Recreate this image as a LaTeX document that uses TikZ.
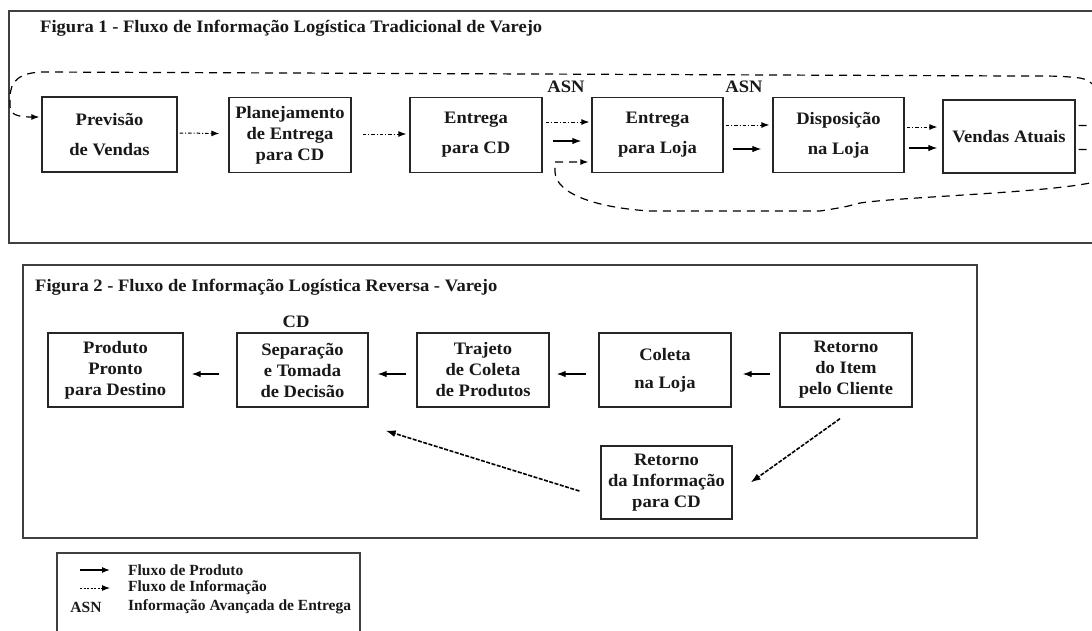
\documentclass[tikz,border=0pt]{standalone}
\usepackage{fontspec}
\setmainfont{Liberation Serif}
\newfontfamily\lbl{Liberation Serif}[FakeStretch=1.06]
\usetikzlibrary{arrows.meta}
\begin{document}
\begin{tikzpicture}[x=1pt,y=-1pt,
  txt/.style={font=\lbl\bfseries\fontsize{17.5}{21}\selectfont, inner sep=0pt, text=black!90},
  legtxt/.style={font=\rmfamily\bfseries\fontsize{15.5}{18}\selectfont, inner sep=0pt, text=black!90},
  box/.style={txt, draw=black!85, line width=1.3pt, align=center, minimum height=75pt},
  frame/.style={draw=black!75, line width=1.8pt},
  prod/.style={line width=1.2pt, -{Latex[length=9pt,width=6.5pt]}},
  info/.style={line width=1pt, dash pattern=on 3.5pt off 2pt on 1pt off 2pt, -{Latex[length=8pt,width=6pt]}},
  loopline/.style={line width=1.2pt, dash pattern=on 8pt off 6pt},
  infodense/.style={line width=1.6pt, dash pattern=on 4pt off 1.5pt, -{Latex[length=10pt,width=7pt]}},
]
\useasboundingbox (0,0) rectangle (1092,630);
\clip (0,0) rectangle (1092,630);
\fill[white] (0,0) rectangle (1092,630);

% ---------- Figura 1 ----------
\draw[frame] (9,11) rectangle (1110,243);
\node[txt, anchor=base west] (t1) at (40,32) {Figura 1 - Fluxo de Informação Logística Tradicional de Varejo};

\node[box, minimum width=135pt] (prev) at (109.5,134.5) {Previsão\\[9pt]de Vendas};
\node[box, minimum width=122pt] (plan) at (290,135) {Planejamento\\de Entrega\\para CD};
\node[box, minimum width=132pt] (ecd) at (476,135) {Entrega\\[9pt]para CD};
\node[box, minimum width=131pt] (elo) at (657.5,135) {Entrega\\[9pt]para Loja};
\node[box, minimum width=131pt] (disp) at (838.5,135) {Disposição\\[9pt]na Loja};
\node[box, minimum width=132pt, minimum height=73pt] (vend) at (1009,136.5) {Vendas Atuais};

\node[txt] (asn1) at (566,87) {ASN};
\node[txt] (asn2) at (744,87) {ASN};

\draw[info] ([xshift=2pt,yshift=1.5pt]prev.east) -- ([xshift=-9pt,yshift=1.5pt]plan.west);
\draw[info] ([xshift=11pt,yshift=1pt]plan.east) -- ([xshift=-3pt,yshift=1pt]ecd.west);
\draw[info] ([xshift=3pt,yshift=13pt]ecd.east) -- ([xshift=-2pt,yshift=13pt]elo.west);
\draw[prod] ([xshift=10pt,yshift=-6pt]ecd.east) -- ([xshift=-10pt,yshift=-6pt]elo.west);
\draw[info] ([xshift=2pt,yshift=10pt]elo.east) -- ([xshift=-3pt,yshift=10pt]disp.west);
\draw[prod] ([xshift=9pt,yshift=-14pt]elo.east) -- ([xshift=-11pt,yshift=-14pt]disp.west);
\draw[info] ([xshift=2pt,yshift=8pt]disp.east) -- ([xshift=-5pt,yshift=9.5pt]vend.west);
\draw[prod] ([xshift=4pt,yshift=-13pt]disp.east) -- ([xshift=-5pt,yshift=-11.5pt]vend.west);

% upper feedback loop: current sales back to forecasting
\draw[loopline, -{Latex[length=8pt,width=6pt]}]
  ([xshift=3pt,yshift=11pt]vend.east) -- (1090,125.5)
  .. controls (1108,124) and (1106,82) .. (1080,78)
  .. controls (1060,76) .. (1020,76) -- (45,72)
  .. controls (18,72) and (10,82) .. (10,98) -- (10,106)
  .. controls (10,114) and (16,117) .. ([xshift=-2pt,yshift=17.5pt]prev.west);

% lower feedback loop: current sales back to store delivery
\draw[loopline, -{Latex[length=8pt,width=6pt]}]
  ([xshift=3pt,yshift=-13pt]vend.east) -- (1090,149.5)
  .. controls (1106,152) and (1104,180) .. (1090,183)
  .. controls (1040,193) and (900,197) .. (860,203)
  .. controls (845,207) .. (820,211) -- (650,211)
  .. controls (600,208) and (556,195) .. (555,172) -- (555,162)
  -- ([xshift=-3pt,yshift=-27pt]elo.west);

% ---------- Figura 2 ----------
\draw[frame] (23,265) rectangle (977,538);
\node[txt, anchor=base west] (t2) at (35,291) {Figura 2 - Fluxo de Informação Logística Reversa - Varejo};

\node[box, minimum width=135pt, minimum height=74pt] (prd) at (115.5,370) {Produto\\Pronto\\para Destino};
\node[box, minimum width=131pt, minimum height=74pt] (sep) at (302.5,370) {Separação\\e Tomada\\de Decisão};
\node[box, minimum width=132pt, minimum height=74pt] (traj) at (483,370) {Trajeto\\de Coleta\\de Produtos};
\node[box, minimum width=132pt, minimum height=74pt] (col) at (665,370) {Coleta\\[7pt]na Loja};
\node[box, minimum width=132pt, minimum height=74pt] (ret) at (846,370) {Retorno\\do Item\\pelo Cliente};
\node[box, minimum width=131pt, minimum height=73pt] (rinfo) at (666.5,482.5) {Retorno\\da Informação\\para CD};
\node[txt] (cd) at (296,322) {CD};

\draw[prod] ([xshift=-17pt,yshift=-4pt]sep.west) -- ([xshift=8pt,yshift=-4pt]prd.east);
\draw[prod] ([xshift=-10pt,yshift=-4pt]traj.west) -- ([xshift=9pt,yshift=-4pt]sep.east);
\draw[prod] ([xshift=-12pt,yshift=-4pt]col.west) -- ([xshift=7pt,yshift=-4pt]traj.east);
\draw[prod] ([xshift=-9pt,yshift=-4pt]ret.west) -- ([xshift=11pt,yshift=-4pt]col.east);

\draw[infodense] ([xshift=-6pt,yshift=-11pt]ret.south) -- ([xshift=18pt]rinfo.east);
\draw[infodense] ([xshift=-21pt,yshift=-8.5pt]rinfo.west) -- ([xshift=17pt,yshift=-23pt]sep.south east);

% ---------- Legenda ----------
\draw[frame, line width=1.4pt] (57,553) rectangle (360,650);
\coordinate (l1a) at (80,570);
\coordinate (l1b) at (110,570);
\coordinate (l2a) at (80,588);
\coordinate (l2b) at (110,588);
\draw[prod, -{Latex[length=8pt,width=6pt]}] (l1a) -- (l1b);
\draw[line width=1pt, dash pattern=on 2pt off 1.5pt, -{Latex[length=8pt,width=6pt]}] (l2a) -- (l2b);
\node[legtxt, anchor=west] (lg1) at (128,570) {Fluxo de Produto};
\node[legtxt, anchor=west] (lg2) at (128,588) {Fluxo de Informação};
\node[legtxt] (lg3a) at (86,607) {ASN};
\node[legtxt, anchor=west] (lg3) at (128,607) {Informação Avançada de Entrega};
\end{tikzpicture}
\end{document}
